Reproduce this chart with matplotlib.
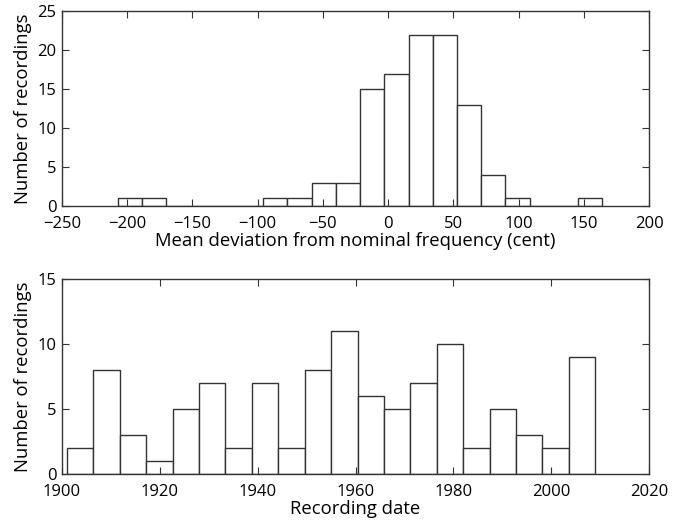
import numpy as np
import matplotlib
matplotlib.use("Agg")
import matplotlib.pyplot as plt

plt.rcParams["font.family"] = ["Open Sans", "DejaVu Sans"]

# top panel: mean deviation (cent), 20 bins from min to max
dev_min, dev_max = -207.0, 164.0
dev_counts = [1, 1, 0, 0, 0, 0, 1, 1, 3, 3, 15, 17, 22, 22, 13, 4, 1, 0, 0, 1]

# bottom panel: recording date, 20 bins
year_min, year_max = 1901.0, 2009.0
year_counts = [2, 8, 3, 1, 5, 7, 2, 7, 2, 8, 11, 6, 5, 7, 10, 2, 5, 3, 2, 9]

EDGE = "#333333"
FS_TICK = 12
FS_LABEL = 13.3


def draw_hist(ax, lo, hi, counts):
    edges = np.linspace(lo, hi, len(counts) + 1)
    ax.bar(edges[:-1], counts, width=np.diff(edges), align="edge",
           color="white", edgecolor=EDGE, linewidth=1.0)
    ax.tick_params(direction="in", top=True, right=True, length=5,
                   labelsize=FS_TICK, color=EDGE)
    ax.tick_params(axis="x", pad=7)
    ax.tick_params(axis="y", pad=4)
    for s in ax.spines.values():
        s.set_color(EDGE)
        s.set_linewidth(1.0)


fig = plt.figure(figsize=(6.78, 5.21), dpi=100)

ax1 = fig.add_axes([0.0914, 0.6046, 0.866, 0.374])
draw_hist(ax1, dev_min, dev_max, dev_counts)
ax1.set_xlim(-250, 200)
ax1.set_ylim(0, 25)
ax1.set_xticks(np.arange(-250, 201, 50))
ax1.set_yticks(np.arange(0, 26, 5))
ax1.set_xlabel("Mean deviation from nominal frequency (cent)", fontsize=FS_LABEL, labelpad=0)
ax1.set_ylabel("Number of recordings", fontsize=FS_LABEL, labelpad=4)

ax2 = fig.add_axes([0.0914, 0.0902, 0.866, 0.374])
draw_hist(ax2, year_min, year_max, year_counts)
ax2.set_xlim(1900, 2020)
ax2.set_ylim(0, 15)
ax2.set_xticks(np.arange(1900, 2021, 20))
ax2.set_yticks(np.arange(0, 16, 5))
ax2.set_xlabel("Recording date", fontsize=FS_LABEL, labelpad=0)
ax2.set_ylabel("Number of recordings", fontsize=FS_LABEL, labelpad=4)

fig.savefig("out.png", dpi=100, facecolor="white")
